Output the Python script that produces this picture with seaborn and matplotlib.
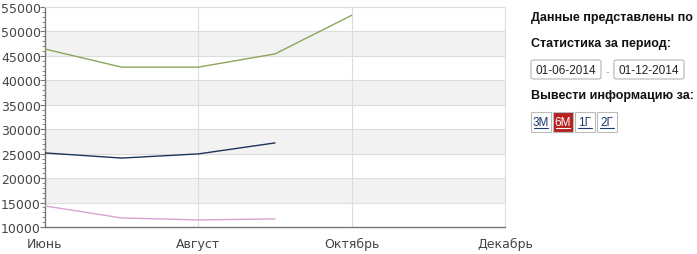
import matplotlib
matplotlib.use("Agg")
import matplotlib.pyplot as plt
import seaborn as sns
import pandas as pd
from matplotlib.patches import FancyBboxPatch, Rectangle
from matplotlib.lines import Line2D

sns.set_style("white")
plt.rcParams['font.family'] = ['DejaVu Sans']

months = ['Июнь', 'Июль', 'Август', 'Сентябрь', 'Октябрь']
month_pos = [0, 1, 2, 3, 4]
series_a = [46400, 42700, 42700, 45400, 53300]
series_b = [25150, 24100, 24950, 27200]
series_c = [14300, 11850, 11450, 11650]
tick_labels = ['Июнь', 'Август', 'Октябрь', 'Декабрь']
tick_pos = [0, 2, 4, 6]

rows = []
for name, vals in [('a', series_a), ('b', series_b), ('c', series_c)]:
    for p, v in zip(month_pos, vals):
        rows.append({'pos': p, 'value': v, 'series': name})
df = pd.DataFrame(rows)

fig = plt.figure(figsize=(6.97, 2.55), dpi=100)
ax = fig.add_axes([45/697, 1-228/255, 460/697, 220/255])

# alternating bands
for lo in range(15000, 55000, 10000):
    ax.axhspan(lo, lo + 5000, color='#f2f2f2', zorder=0, lw=0)

palette = {'a': '#8aa65c', 'b': '#1c3557', 'c': '#d6a3d3'}
sns.lineplot(data=df, x='pos', y='value', hue='series', palette=palette,
             ax=ax, legend=False, linewidth=1.0, zorder=3)

ax.set_xlim(0, 6)
ax.set_ylim(10000, 55000)
ax.set_xticks(tick_pos)
ax.set_xticklabels(tick_labels)
ax.set_yticks(range(10000, 55001, 5000))
ax.set_yticks(range(10000, 55001, 1000), minor=True)
ax.set_xlabel('')
ax.set_ylabel('')

for y in range(15000, 55001, 5000):
    ax.axhline(y, color='#dddddd', lw=0.8, zorder=1)
for x in [2, 4]:
    ax.axvline(x, color='#dddddd', lw=0.8, zorder=1)

for s in ['top', 'right']:
    ax.spines[s].set_color('#dddddd')
    ax.spines[s].set_linewidth(0.8)
for s in ['left', 'bottom']:
    ax.spines[s].set_color('#777777')
    ax.spines[s].set_linewidth(1.0)

ax.tick_params(axis='y', which='major', left=True, length=3.5, width=0.8,
               color='#777777', labelsize=9, labelcolor='#444444', pad=-0.5)
ax.tick_params(axis='y', which='minor', left=True, length=2, width=0.6,
               color='#777777')
ax.tick_params(axis='x', which='both', bottom=False, labelsize=9,
               labelcolor='#444444', pad=4)

# right-hand panel
def fx(px):
    return px / 697
def fy(py):
    return 1 - py / 255

bold_font = dict(family=['Liberation Sans', 'DejaVu Sans'], weight='bold',
                 size=9, color='#111111')
fig.text(fx(531), fy(18), 'Данные представлены по', va='center', ha='left', **bold_font)
fig.text(fx(531), fy(44), 'Статистика за период:', va='center', ha='left', **bold_font)
fig.text(fx(531), fy(96), 'Вывести информацию за:', va='center', ha='left', **bold_font)

for x0, x1, txt in [(531, 601, '01-06-2014'), (614, 684, '01-12-2014')]:
    fig.patches.append(FancyBboxPatch((fx(x0), fy(80)), fx(x1 - x0), (80 - 61) / 255,
                                      boxstyle='round,pad=0,rounding_size=0.005',
                                      transform=fig.transFigure, fc='white',
                                      ec='#b5b5b5', lw=0.8))
    fig.text(fx((x0 + x1) / 2), fy(70.5), txt, ha='center', va='center',
             family=['Liberation Sans', 'DejaVu Sans'], size=8.5, color='#222222')
fig.text(fx(607.5), fy(72), '-', ha='center', va='center', size=7, color='#aaaaaa')

for i, (txt, active) in enumerate([('3М', False), ('6М', True), ('1Г', False), ('2Г', False)]):
    x0 = 531 + i * 22
    fig.patches.append(Rectangle((fx(x0), fy(133)), fx(20), 20 / 255,
                                 transform=fig.transFigure,
                                 fc='#b52020' if active else 'white',
                                 ec='#bbbbbb', lw=0.8))
    col = 'white' if active else '#1a3a6e'
    fig.text(fx(x0 + 10), fy(123), txt, ha='center', va='center',
             family=['Liberation Sans', 'DejaVu Sans'], size=8.5, color=col)
    fig.lines.append(Line2D([fx(x0 + 3), fx(x0 + 17)], [fy(128.5), fy(128.5)],
                            transform=fig.transFigure, color=col, lw=0.8))

fig.savefig('out.png', dpi=100)
